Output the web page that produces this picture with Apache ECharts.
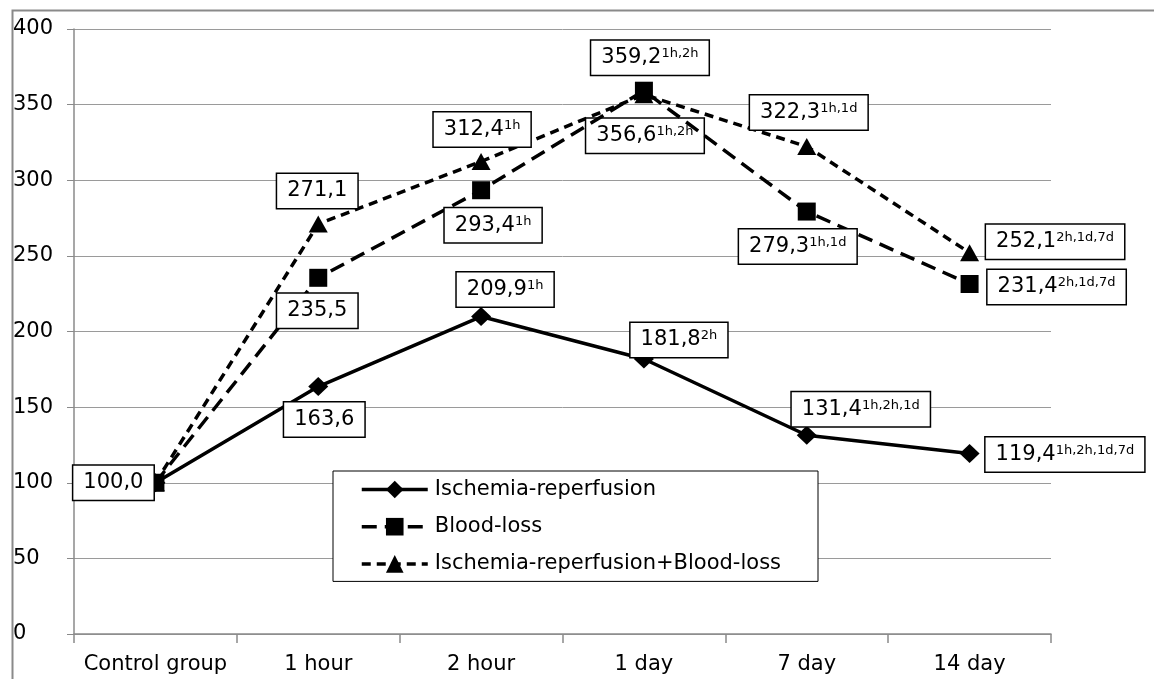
<!DOCTYPE html>
<html>
<head>
<meta charset="utf-8">
<script src="https://cdn.jsdelivr.net/npm/echarts@6/dist/echarts.min.js"></script>
<style>
html,body{margin:0;padding:0;background:#fff;}
#chart{width:1154px;height:679px;}
</style>
</head>
<body>
<div id="chart"></div>
<script>
const categories = ['Control group', '1 hour', '2 hour', '1 day', '7 day', '14 day'];
const yTicks = [0, 50, 100, 150, 200, 250, 300, 350, 400];
const seriesNames = ['Ischemia-reperfusion', 'Blood-loss', 'Ischemia-reperfusion+Blood-loss'];
const irValues = [100.0, 163.6, 209.9, 181.8, 131.4, 119.4];
const blValues = [100.0, 235.5, 293.4, 359.2, 279.3, 231.4];
const irblValues = [100.0, 271.1, 312.4, 356.6, 322.3, 252.1];
const irSup = ['', '', '1h', '2h', '1h,2h,1d', '1h,2h,1d,7d'];
const blSup = ['', '', '1h', '1h,2h', '1h,1d', '2h,1d,7d'];
const irblSup = ['', '', '1h', '1h,2h', '1h,1d', '2h,1d,7d'];
const irShowLabel = [true, true, true, true, true, true];
const blShowLabel = [false, true, true, true, true, true];
const irblShowLabel = [false, true, true, true, true, true];

// label layout (styling only)
const irLabelPos = [
  {position: 'inside', offset: [-42, 0]},
  {position: 'inside', offset: [6, 33]},
  {position: 'inside', offset: [24, -27]},
  {position: 'inside', offset: [35, -19]},
  {position: 'inside', offset: [54, -26]},
  {position: 'right', distance: 6, offset: [0, 1]}
];
const blLabelPos = [
  null,
  {position: 'inside', offset: [-1, 33]},
  {position: 'inside', offset: [12, 35]},
  {position: 'inside', offset: [6, -33]},
  {position: 'inside', offset: [-9, 35]},
  {position: 'right', distance: 9, offset: [0, 3]}
];
const irblLabelPos = [
  null,
  {position: 'inside', offset: [-1, -33]},
  {position: 'inside', offset: [1, -32]},
  {position: 'inside', offset: [1, 41]},
  {position: 'inside', offset: [2, -34]},
  {position: 'right', distance: 7, offset: [0, -11]}
];

const FONT = 'DejaVu Sans';
const labelRich = {
  v: {fontFamily: FONT, fontSize: 21, lineHeight: 22, color: '#000'},
  s: {fontFamily: FONT, fontSize: 13, lineHeight: 14, padding: [0, 0, 8, 0], color: '#000'}
};

function fmt(v) { return v.toFixed(1).replace('.', ','); }

function buildData(values, sups, shows, pos) {
  return values.map(function (v, i) {
    const item = {value: v};
    if (shows[i] && pos[i]) {
      const p = pos[i];
      const txt = '{v|' + fmt(v) + '}' + (sups[i] ? '{s|' + sups[i] + '}' : '');
      item.label = Object.assign({
        show: true,
        formatter: txt,
        rich: labelRich,
        backgroundColor: '#fff',
        borderColor: '#000',
        borderWidth: 1.5,
        padding: [6, 10, 6, 10]
      }, p);
    } else {
      item.label = {show: false};
    }
    return item;
  });
}

const chart = echarts.init(document.getElementById('chart'), null, {renderer: 'canvas'});
chart.setOption({
  backgroundColor: '#fff',
  animation: false,
  graphic: [{
    type: 'rect',
    left: 10, top: 8,
    shape: {width: 1300, height: 800},
    style: {fill: 'none', stroke: '#8a8a8a', lineWidth: 2},
    silent: true, z: -10
  }],
  grid: {left: 74, right: 103, top: 29, bottom: 45},
  legend: {
    show: true,
    orient: 'vertical',
    left: 333, top: 471,
    data: seriesNames,
    itemWidth: 66, itemHeight: 22,
    itemGap: 16.2,
    padding: [8, 37, 7, 27],
    backgroundColor: '#fff',
    borderColor: '#000',
    borderWidth: 1,
    borderRadius: 0,
    lineStyle: {width: 3.5},
    textStyle: {fontFamily: FONT, fontSize: 21, color: '#000', padding: [0, 0, 0, 2]}
  },
  xAxis: {
    type: 'category',
    data: categories,
    boundaryGap: true,
    axisLine: {show: true, lineStyle: {color: '#8a8a8a', width: 1.5}},
    axisTick: {show: true, interval: 0, length: 9, lineStyle: {color: '#8a8a8a', width: 1.5}},
    axisLabel: {interval: 0, fontFamily: FONT, fontSize: 21, color: '#000', margin: 20},
    splitLine: {show: false}
  },
  yAxis: {
    type: 'value',
    min: yTicks[0], max: yTicks[yTicks.length - 1], interval: 50,
    axisLine: {show: true, lineStyle: {color: '#8a8a8a', width: 1.5}},
    axisTick: {show: true, length: 7, lineStyle: {color: '#8a8a8a'}},
    axisLabel: {fontFamily: FONT, fontSize: 21, color: '#000', align: 'left', margin: 61},
    splitLine: {show: true, lineStyle: {color: '#9a9a9a', width: 1}}
  },
  series: [
    {
      name: seriesNames[0], type: 'line', z: 4,
      data: buildData(irValues, irSup, irShowLabel, irLabelPos),
      symbol: 'diamond', symbolSize: [20, 19],
      lineStyle: {color: '#000', width: 3.5, type: 'solid'},
      itemStyle: {color: '#000'}
    },
    {
      name: seriesNames[1], type: 'line', z: 3,
      data: buildData(blValues, blSup, blShowLabel, blLabelPos),
      symbol: 'rect', symbolSize: 18,
      lineStyle: {color: '#000', width: 3.5, type: [15, 8]},
      itemStyle: {color: '#000'}
    },
    {
      name: seriesNames[2], type: 'line', z: 2,
      data: buildData(irblValues, irblSup, irblShowLabel, irblLabelPos),
      symbol: 'triangle', symbolSize: [19, 17],
      lineStyle: {color: '#000', width: 3.5, type: [9, 6]},
      itemStyle: {color: '#000'}
    }
  ]
});
</script>
</body>
</html>
